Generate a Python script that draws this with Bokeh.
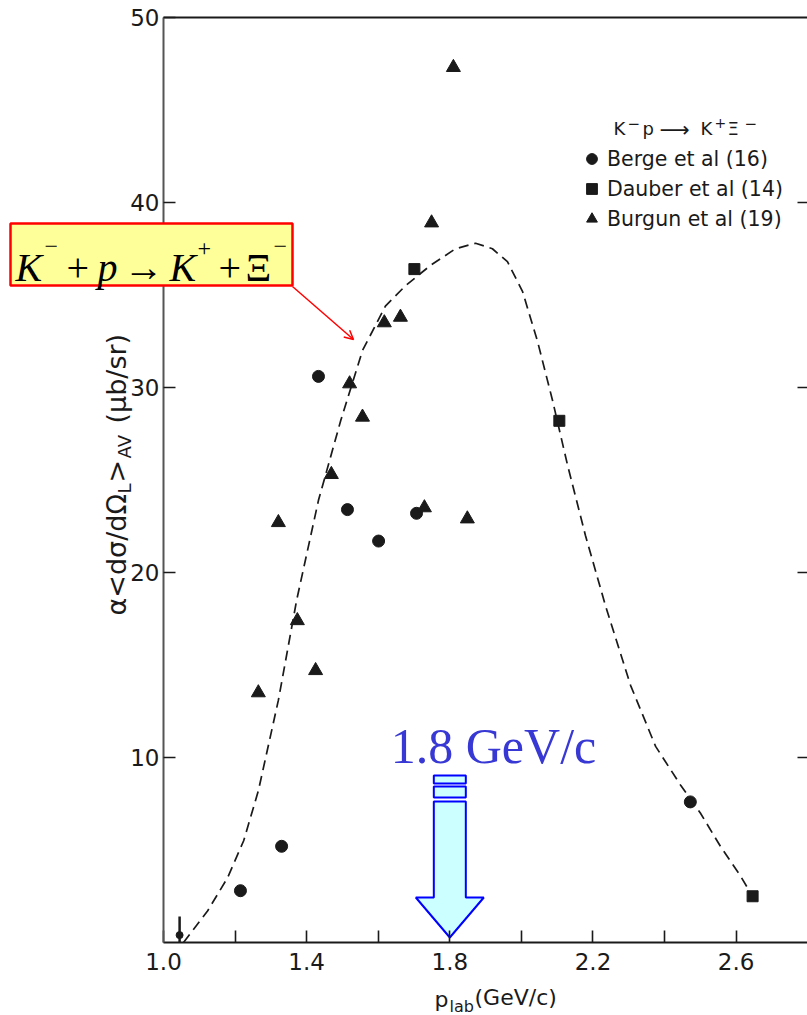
import math

from bokeh.embed import file_html
from bokeh.models import (Arrow, BoxAnnotation, CustomJSTickFormatter, FixedTicker,
                          Label, Legend, LegendItem, LinearAxis, OpenHead,
                          PrintfTickFormatter)
from bokeh.plotting import figure
from bokeh.resources import INLINE

# ---- data: K- p -> K+ Xi-, alpha <dsigma/dOmega_L>_AV (mub/sr) vs p_lab (GeV/c)
berge_p = [1.215, 1.330, 1.433, 1.514, 1.601, 1.707, 2.472]
berge_xs = [2.8, 5.2, 30.6, 23.4, 21.7, 23.2, 7.6]

dauber_p = [1.701, 2.106, 2.646]
dauber_xs = [36.4, 28.2, 2.5]

burgun_p = [1.810, 1.749, 1.617, 1.662, 1.520, 1.556, 1.469, 1.321,
            1.729, 1.849, 1.374, 1.425, 1.265]
burgun_xs = [47.3, 38.9, 33.5, 33.8, 30.2, 28.4, 25.3, 22.7,
             23.5, 22.9, 17.4, 14.7, 13.5]

limit_p = [1.045]
limit_xs = [0.4]
limit_bar_top = [1.4]

curve_p = [1.056, 1.123, 1.179, 1.224, 1.265, 1.321, 1.372, 1.433, 1.495,
           1.556, 1.620, 1.676, 1.746, 1.816, 1.872, 1.919, 1.961, 2.003,
           2.045, 2.087, 2.129, 2.179, 2.235, 2.305, 2.375, 2.445, 2.500,
           2.556, 2.612, 2.646]
curve_xs = [0.0, 1.7, 3.5, 5.5, 8.2, 13.1, 18.5, 23.9, 28.2,
            32.0, 34.4, 35.5, 36.6, 37.5, 37.8, 37.5, 36.8, 35.2,
            32.5, 29.3, 25.8, 22.0, 18.2, 13.9, 10.6, 8.5, 7.0,
            5.2, 3.6, 2.5]

p_major_ticks = [1.0, 1.4, 1.8, 2.2, 2.6]
p_minor_ticks = [1.2, 1.6, 2.0, 2.4]
xs_ticks = [10, 20, 30, 40, 50]

highlight_p = 1.8  # beam momentum marked by the blue arrow

# ---- page geometry: the frame fills the page, axes sit at fixed locations
W, H = 807, 1015
AX_L, AX_T, AX_B = 163, 17, 942          # pixel positions of the axes box
PX_PER_GEV = 357.9
P_MIN = 1.0
XS_MIN, XS_MAX = 0.0, 50.0
PX_PER_UNIT = (AX_B - AX_T) / (XS_MAX - XS_MIN)


def gx(px):
    """page x pixel -> data x"""
    return P_MIN + (px - AX_L) / PX_PER_GEV


def gy(py):
    """page y pixel -> data y"""
    return XS_MIN + (AX_B - py) / PX_PER_UNIT


P_MAX = gx(W)

INK = "#1a1a1a"
SANS = "DejaVu Sans"
SERIF = "Liberation Serif"

p = figure(width=W, height=H, x_range=(gx(0), gx(W)), y_range=(gy(H), gy(0)),
           output_backend="svg", toolbar_location=None, title=None,
           x_axis_type=None, y_axis_type=None,
           min_border_left=0, min_border_right=0, min_border_top=0, min_border_bottom=0)
p.grid.visible = False
p.outline_line_color = None
p.background_fill_color = "white"
p.border_fill_color = "white"

blank = CustomJSTickFormatter(code="return ''")

# bottom axis
xa = LinearAxis(fixed_location=XS_MIN, bounds=(P_MIN, P_MAX),
                ticker=FixedTicker(ticks=p_major_ticks, minor_ticks=p_minor_ticks),
                formatter=PrintfTickFormatter(format="%.1f"),
                major_tick_in=12, major_tick_out=0, minor_tick_in=12, minor_tick_out=0,
                major_tick_line_width=1.6, minor_tick_line_width=1.6,
                major_tick_line_color=INK, minor_tick_line_color=INK,
                axis_line_color=INK, axis_line_width=1.8,
                major_label_standoff=10, major_label_text_font=SANS,
                major_label_text_font_size="23px", major_label_text_color=INK)
p.add_layout(xa, "below")

# left axis
ya = LinearAxis(fixed_location=P_MIN, bounds=(XS_MIN, XS_MAX),
                ticker=FixedTicker(ticks=xs_ticks),
                major_tick_in=12, major_tick_out=0, minor_tick_line_color=None,
                major_tick_line_width=1.6, major_tick_line_color=INK,
                axis_line_color="#555555", axis_line_width=2,
                major_label_standoff=4, major_label_text_font=SANS,
                major_label_text_font_size="23px", major_label_text_color=INK)
p.add_layout(ya, "left")

# right edge: inward ticks only
ra = LinearAxis(fixed_location=P_MAX, bounds=(XS_MIN, XS_MAX),
                ticker=FixedTicker(ticks=xs_ticks[:-1]), formatter=blank,
                axis_line_color=None, major_tick_in=10, major_tick_out=0,
                major_tick_line_color=INK, major_tick_line_width=1.6,
                minor_tick_line_color=None)
p.add_layout(ra, "right")

# top edge of the axes box
ta = LinearAxis(fixed_location=XS_MAX, bounds=(P_MIN, P_MAX),
                ticker=FixedTicker(ticks=[]), formatter=blank,
                axis_line_color=INK, axis_line_width=1.8,
                major_tick_line_color=None, minor_tick_line_color=None)
p.add_layout(ta, "above")

# ---- marks
p.line(curve_p, curve_xs, line_color=INK, line_width=1.7, line_dash="10 6")
r_berge = p.scatter(berge_p, berge_xs, marker="circle", size=12, color=INK)
r_dauber = p.scatter(dauber_p, dauber_xs, marker="square", size=11, color=INK)
r_burgun = p.scatter(burgun_p, burgun_xs, marker="triangle", size=14, color=INK)
p.segment(x0=limit_p, y0=[XS_MIN], x1=limit_p, y1=limit_bar_top,
          line_color=INK, line_width=2.5)
p.scatter(limit_p, limit_xs, marker="circle", size=7, color=INK)

legend = Legend(items=[LegendItem(label="Berge et al (16)", renderers=[r_berge]),
                       LegendItem(label="Dauber et al (14)", renderers=[r_dauber]),
                       LegendItem(label="Burgun et al (19)", renderers=[r_burgun])],
                location=(578, H - 232), padding=0, margin=0,
                spacing=3, label_height=27, glyph_height=27, glyph_width=27,
                label_standoff=2, border_line_color=None, background_fill_alpha=0,
                label_text_font=SANS, label_text_font_size="20.5px",
                label_text_color=INK)
p.add_layout(legend)

# legend heading: the reaction
heading = [("K", 613, 128, 18), ("−", 627, 122, 15), ("p", 642, 128, 18),
           ("⟶", 659, 129, 21), ("K", 700, 128, 18), ("+", 714, 122, 14),
           ("Ξ", 727, 128, 18), ("−", 744, 122, 15)]
for txt, px, py, fs in heading:
    p.add_layout(Label(x=gx(px), y=gy(py), text=txt, text_font=SANS,
                       text_font_size=f"{fs}px", text_color=INK,
                       text_align="left", text_baseline="alphabetic"))

# ---- axis titles (rotated pieces, read bottom to top)
ytitle = [("α<dσ/dΩ", 615, 116, 27), ("L", 493, 124, 18), (">", 482, 116, 27),
          ("AV", 458, 124, 18), ("(μb/sr)", 423, 116, 27)]
for txt, py, px, fs in ytitle:
    p.add_layout(Label(x=gx(px), y=gy(py), text=txt, angle=math.pi / 2, text_font=SANS,
                       text_font_size=f"{fs}px", text_color=INK,
                       text_align="left", text_baseline="middle"))

xtitle = [("p", 434, 999, 22), ("lab", 449, 1006, 16), ("(GeV/c)", 474, 997, 22)]
for txt, px, py, fs in xtitle:
    p.add_layout(Label(x=gx(px), y=gy(py), text=txt, text_font=SANS,
                       text_font_size=f"{fs}px", text_color=INK,
                       text_align="left", text_baseline="alphabetic"))

# ---- reaction label box with pointer
p.add_layout(BoxAnnotation(left=gx(10), right=gx(292), top=gy(223), bottom=gy(285),
                           fill_color="#FFFF99", fill_alpha=1.0,
                           line_color="#FF0000", line_width=2.5, line_alpha=1.0))
reaction = [("K", 15, 267, 40, "italic"), ("−", 44, 246, 24, "normal"),
            ("+", 66, 267, 40, "normal"), ("p", 97, 267, 40, "italic"),
            ("→", 123, 267, 40, "normal"), ("K", 169, 267, 40, "italic"),
            ("+", 197, 248, 24, "normal"), ("+", 218, 267, 40, "normal"),
            ("Ξ", 245, 267, 40, "normal"), ("−", 273, 246, 24, "normal")]
for txt, px, py, fs, style in reaction:
    p.add_layout(Label(x=gx(px), y=gy(py), text=txt, text_font=SERIF,
                       text_font_style=style, text_font_size=f"{fs}px",
                       text_color="black", text_align="left",
                       text_baseline="alphabetic"))
p.add_layout(Arrow(x_start=gx(292), y_start=gy(286), x_end=gx(353), y_end=gy(339),
                   line_color="#FF0000", line_width=1.5,
                   end=OpenHead(size=9, line_color="#FF0000", line_width=1.5)))

# ---- block arrow at the highlighted momentum
shaft = 16 / PX_PER_GEV
head = 34 / PX_PER_GEV
tip, head_top, shaft_top = gy(937), gy(897), gy(801)
p.patch([highlight_p, highlight_p - head, highlight_p - shaft, highlight_p - shaft,
         highlight_p + shaft, highlight_p + shaft, highlight_p + head],
        [tip, head_top, head_top, shaft_top, shaft_top, head_top, head_top],
        fill_color="#CCFFFF", line_color="#0000FF", line_width=2)
p.quad(left=[highlight_p - shaft] * 2, right=[highlight_p + shaft] * 2,
       bottom=[gy(797), gy(783)], top=[gy(786), gy(775)],
       fill_color="#CCFFFF", line_color="#0000FF", line_width=2)
p.add_layout(Label(x=gx(493), y=gy(745), text=f"{highlight_p} GeV/c", text_font=SERIF,
                   text_font_size="50px", text_color="#3838D4", text_align="center",
                   text_baseline="alphabetic"))

open("out.html", "w").write(file_html(p, INLINE))
